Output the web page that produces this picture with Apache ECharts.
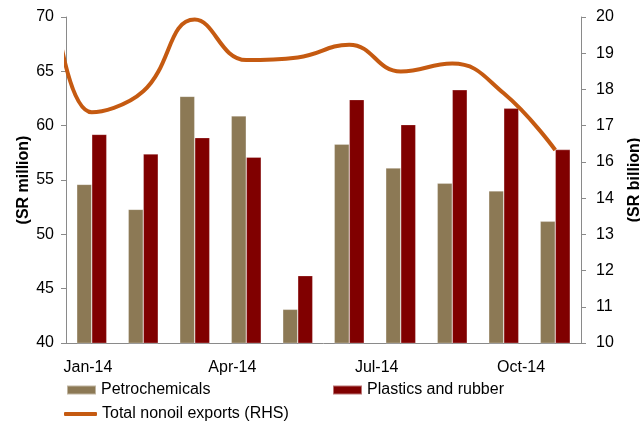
<!DOCTYPE html>
<html>
<head>
<meta charset="utf-8">
<script src="https://cdn.jsdelivr.net/npm/echarts@6/dist/echarts.min.js"></script>
<style>
  html, body { margin: 0; padding: 0; background: #fff; }
  #chart { width: 640px; height: 421px; }
</style>
</head>
<body>
<div id="chart"></div>
<script>
// Monthly exports, Jan-14 to Oct-14
const months = ['Jan-14', 'Feb-14', 'Mar-14', 'Apr-14', 'May-14', 'Jun-14', 'Jul-14', 'Aug-14', 'Sep-14', 'Oct-14'];
const petrochemicals = [54.6, 52.3, 62.7, 60.9, 43.1, 58.3, 56.1, 54.7, 54.0, 51.2];
const plasticsRubber = [59.2, 57.4, 58.9, 57.1, 46.2, 62.4, 60.1, 63.3, 61.6, 57.8];
// Total nonoil exports (SR billion); the Dec-13 value only shapes the curve entering the plot
const nonoilPrev = 24.8;
const nonoilExports = [17.08, 17.72, 19.92, 18.68, 18.76, 19.15, 18.33, 18.57, 17.66, 15.92];
// Month labels shown under the axis
const tickMonths = [0, 3, 6, 9];

const FONT = '"Liberation Sans", Arial, sans-serif';
const AXIS_GREY = '#8a8a8a';

// line points indexed 0 (Dec-13) .. 10 (Oct-14)
const lineData = [[0, nonoilPrev]].concat(nonoilExports.map((v, i) => [i + 1, v]));

const chart = echarts.init(document.getElementById('chart'), null, { renderer: 'canvas' });

const legendText = { fontFamily: FONT, fontSize: 16, color: '#000' };

chart.setOption({
  animation: false,
  backgroundColor: '#fff',
  textStyle: { fontFamily: FONT },
  grid: { left: 66, right: 59, top: 17, bottom: 78, containLabel: false, outerBoundsMode: 'none' },
  legend: [
    { data: ['Petrochemicals'], left: 66, top: 382, padding: 0, itemWidth: 29, itemHeight: 9, itemGap: 0,
      textStyle: legendText, icon: 'rect' },
    { data: ['Plastics and rubber'], left: 332, top: 382, padding: 0, itemWidth: 29, itemHeight: 9, itemGap: 0,
      textStyle: legendText, icon: 'rect' },
    { data: ['Total nonoil exports (RHS)'], left: 64, top: 406, padding: 0, itemWidth: 33, itemHeight: 4, itemGap: 0,
      textStyle: legendText, icon: 'roundRect' }
  ],
  xAxis: [
    { // bar positions
      type: 'category', data: months, position: 'bottom',
      axisLine: { onZero: false, lineStyle: { color: AXIS_GREY, width: 1 } },
      axisTick: { show: false }, axisLabel: { show: false }, splitLine: { show: false }
    },
    { // line positions, aligned to category centres
      type: 'value', min: 0.5, max: 10.5, show: false
    },
    { // month labels
      type: 'value', min: -0.456, max: 10.245, position: 'bottom',
      axisLine: { show: false, onZero: false }, axisTick: { show: false }, splitLine: { show: false },
      axisLabel: {
        customValues: tickMonths,
        formatter: v => months[Math.round(v)] || '',
        fontFamily: FONT, fontSize: 16, color: '#000', margin: 17
      }
    }
  ],
  yAxis: [
    {
      type: 'value', min: 40, max: 70, interval: 5, position: 'left',
      name: '(SR million)', nameLocation: 'middle', nameRotate: 90, nameGap: 34, nameMoveOverlap: false,
      nameTextStyle: { fontFamily: FONT, fontSize: 16, fontWeight: 'bold', color: '#000' },
      axisLine: { show: true, onZero: false, lineStyle: { color: AXIS_GREY, width: 1 } },
      axisTick: { show: true, length: 5, lineStyle: { color: AXIS_GREY } },
      axisLabel: { fontFamily: FONT, fontSize: 16, color: '#000', margin: 12 },
      splitLine: { show: false }
    },
    {
      type: 'value', min: 10, max: 20, interval: 10 / 9, position: 'right',
      name: '(SR billion)', nameLocation: 'middle', nameRotate: 90, nameGap: 46, nameMoveOverlap: false,
      nameTextStyle: { fontFamily: FONT, fontSize: 16, fontWeight: 'bold', color: '#000' },
      axisLine: { show: true, onZero: false, lineStyle: { color: AXIS_GREY, width: 1 } },
      axisTick: { show: true, length: 5, lineStyle: { color: AXIS_GREY } },
      axisLabel: { fontFamily: FONT, fontSize: 16, color: '#000', margin: 15,
        formatter: v => String(Math.round(v)) },
      splitLine: { show: false }
    }
  ],
  series: [
    {
      name: 'Petrochemicals', type: 'bar', xAxisIndex: 0, yAxisIndex: 0,
      data: petrochemicals, barWidth: 15, barGap: '0%',
      itemStyle: { color: '#8c7955', borderColor: 'rgba(255,255,255,0.45)', borderWidth: 0.6 }
    },
    {
      name: 'Plastics and rubber', type: 'bar', xAxisIndex: 0, yAxisIndex: 0,
      data: plasticsRubber, barWidth: 15, barGap: '0%',
      itemStyle: { color: '#800000', borderColor: 'rgba(255,255,255,0.45)', borderWidth: 0.6 }
    },
    {
      name: 'Total nonoil exports (RHS)', type: 'line', xAxisIndex: 1, yAxisIndex: 1,
      data: lineData, smooth: 0.45, symbol: 'none', showSymbol: false, clip: true,
      lineStyle: { color: '#c55a11', width: 4 }, itemStyle: { color: '#c55a11' }, z: 5
    }
  ]
});
</script>
</body>
</html>
